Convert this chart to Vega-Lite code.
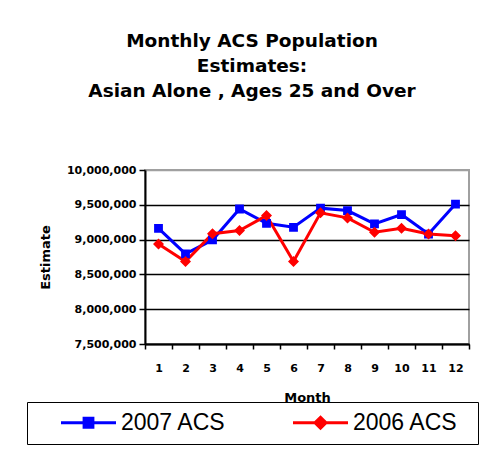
{
  "$schema": "https://vega.github.io/schema/vega-lite/v6.json",
  "autosize": "none",
  "width": 324,
  "height": 174,
  "padding": {"left": 145, "top": 170, "right": 27, "bottom": 106},
  "background": "white",
  "config": {
    "font": "Liberation Sans",
    "view": {"stroke": "#A0A0A0", "strokeWidth": 2}
  },
  "title": {
    "text": ["Monthly ACS Population", "Estimates:", "Asian Alone , Ages 25 and Over"],
    "font": "DejaVu Sans",
    "fontSize": 18.5,
    "fontWeight": "bold",
    "lineHeight": 25,
    "anchor": "middle",
    "dx": -55,
    "offset": 64,
    "color": "black"
  },
  "data": {
    "values": [
      {"month": 1, "series": "2007 ACS", "value": 9160000},
      {"month": 2, "series": "2007 ACS", "value": 8795000},
      {"month": 3, "series": "2007 ACS", "value": 8995000},
      {"month": 4, "series": "2007 ACS", "value": 9440000},
      {"month": 5, "series": "2007 ACS", "value": 9234000},
      {"month": 6, "series": "2007 ACS", "value": 9177000},
      {"month": 7, "series": "2007 ACS", "value": 9452000},
      {"month": 8, "series": "2007 ACS", "value": 9417000},
      {"month": 9, "series": "2007 ACS", "value": 9225000},
      {"month": 10, "series": "2007 ACS", "value": 9360000},
      {"month": 11, "series": "2007 ACS", "value": 9080000},
      {"month": 12, "series": "2007 ACS", "value": 9510000},
      {"month": 1, "series": "2006 ACS", "value": 8938000},
      {"month": 2, "series": "2006 ACS", "value": 8684000},
      {"month": 3, "series": "2006 ACS", "value": 9085000},
      {"month": 4, "series": "2006 ACS", "value": 9130000},
      {"month": 5, "series": "2006 ACS", "value": 9345000},
      {"month": 6, "series": "2006 ACS", "value": 8684000},
      {"month": 7, "series": "2006 ACS", "value": 9384000},
      {"month": 8, "series": "2006 ACS", "value": 9312000},
      {"month": 9, "series": "2006 ACS", "value": 9105000},
      {"month": 10, "series": "2006 ACS", "value": 9162000},
      {"month": 11, "series": "2006 ACS", "value": 9080000},
      {"month": 12, "series": "2006 ACS", "value": 9057000}
    ]
  },
  "encoding": {
    "x": {
      "field": "month",
      "type": "ordinal",
      "bandPosition": 0.5,
      "scale": {"type": "band", "paddingInner": 0, "paddingOuter": 0},
      "axis": {
        "title": "Month",
        "titleFont": "DejaVu Sans",
        "titleFontSize": 13,
        "titleFontWeight": "bold",
        "titleColor": "black",
        "titlePadding": 18,
        "labelAngle": 0,
        "labelFont": "DejaVu Sans",
        "labelFontSize": 11,
        "labelFontWeight": "bold",
        "labelColor": "black",
        "labelPadding": 13,
        "tickBand": "extent",
        "tickSize": 5,
        "tickColor": "black",
        "tickWidth": 1.5,
        "domainColor": "black",
        "domainWidth": 2,
        "grid": false
      }
    },
    "y": {
      "field": "value",
      "type": "quantitative",
      "scale": {"domain": [7500000, 10000000], "nice": false, "zero": false},
      "axis": {
        "title": "Estimate",
        "titleFont": "DejaVu Sans",
        "titleFontSize": 13,
        "titleFontWeight": "bold",
        "titleColor": "black",
        "titlePadding": 14,
        "values": [7500000, 8000000, 8500000, 9000000, 9500000, 10000000],
        "format": ",d",
        "labelFont": "DejaVu Sans",
        "labelFontSize": 11,
        "labelFontWeight": "bold",
        "labelColor": "black",
        "labelPadding": 3,
        "tickSize": 6,
        "tickColor": "black",
        "tickWidth": 1.5,
        "domainColor": "black",
        "domainWidth": 2,
        "grid": true,
        "gridColor": {"condition": {"test": "datum.value >= 10000000", "value": "#A0A0A0"}, "value": "black"},
        "gridWidth": 1.5,
        "gridOpacity": 1
      }
    },
    "color": {
      "field": "series",
      "type": "nominal",
      "scale": {"domain": ["2007 ACS", "2006 ACS"], "range": ["#0000FF", "#FF0000"]},
      "legend": {
        "title": " ",
        "titleOrient": "right",
        "titleFontSize": 23,
        "titlePadding": 11,
        "orient": "none",
        "legendX": -118,
        "legendY": 232,
        "direction": "horizontal",
        "columns": 2,
        "labelFont": "Liberation Sans",
        "labelFontSize": 23,
        "labelColor": "black",
        "labelOffset": 21,
        "columnPadding": 42,
        "padding": 9,
        "symbolOffset": 41,
        "symbolSize": 121,
        "symbolStrokeWidth": 3,
        "strokeColor": "black",
        "fillColor": "white"
      }
    }
  },
  "layer": [
    {"mark": {"type": "line", "strokeWidth": 3}},
    {
      "mark": {"type": "point", "filled": true, "opacity": 1},
      "encoding": {
        "shape": {
          "field": "series",
          "type": "nominal",
          "scale": {
            "domain": ["2007 ACS", "2006 ACS"],
            "range": ["M-5,0H5M-0.8,-0.8H0.8V0.8H-0.8Z", "M-5,0H5M0,-1L1,0L0,1L-1,0Z"]
          },
          "legend": {
            "title": " ",
            "titleOrient": "right",
            "titleFontSize": 23,
            "titlePadding": 11,
            "orient": "none",
            "legendX": -118,
            "legendY": 232,
            "direction": "horizontal",
            "columns": 2,
            "labelFont": "Liberation Sans",
            "labelFontSize": 23,
            "labelColor": "black",
            "labelOffset": 21,
            "columnPadding": 42,
            "padding": 9,
            "symbolOffset": 41,
            "symbolSize": 121,
            "symbolStrokeWidth": 3,
            "strokeColor": "black",
            "fillColor": "white"
          }
        },
        "size": {"value": 121}
      }
    }
  ]
}
